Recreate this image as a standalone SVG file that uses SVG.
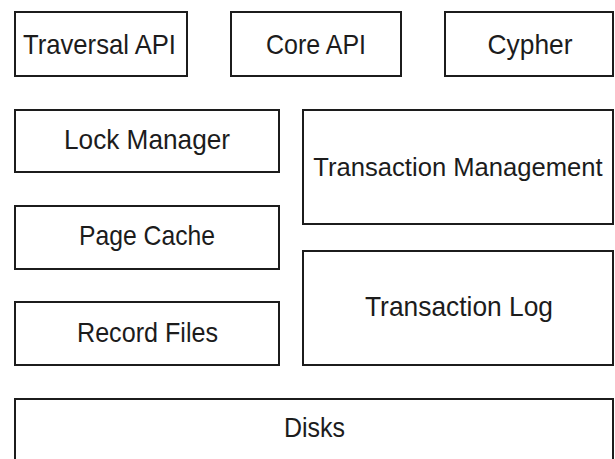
<svg xmlns="http://www.w3.org/2000/svg" width="615" height="459" viewBox="0 0 615 459">
  <style>
    .box { fill: #ffffff; stroke: #1c1c1c; stroke-width: 2; }
    .label { font-family: "Liberation Sans", Arial, sans-serif; font-size: 28.5px; fill: #1c1c1c; text-anchor: middle; }
    .wide { font-size: 25.6px; }
  </style>
  <rect width="615" height="459" fill="#ffffff"/>

  <!-- API layer -->
  <g id="traversal-api">
    <rect class="box" x="15" y="12" width="172" height="64"/>
    <text class="label" x="99.5" y="54" textLength="153" lengthAdjust="spacingAndGlyphs">Traversal API</text>
  </g>
  <g id="core-api">
    <rect class="box" x="231" y="12" width="170" height="64"/>
    <text class="label" x="316" y="54" textLength="100" lengthAdjust="spacingAndGlyphs">Core API</text>
  </g>
  <g id="cypher">
    <rect class="box" x="445" y="12" width="168" height="64"/>
    <text class="label" x="530" y="54" textLength="85" lengthAdjust="spacingAndGlyphs">Cypher</text>
  </g>

  <!-- storage stack, left column -->
  <g id="lock-manager">
    <rect class="box" x="15" y="110" width="264" height="62"/>
    <text class="label" x="147" y="149" textLength="166" lengthAdjust="spacingAndGlyphs">Lock Manager</text>
  </g>
  <g id="page-cache">
    <rect class="box" x="15" y="206" width="264" height="63"/>
    <text class="label" x="147" y="245" textLength="136" lengthAdjust="spacingAndGlyphs">Page Cache</text>
  </g>
  <g id="record-files">
    <rect class="box" x="15" y="302" width="264" height="63"/>
    <text class="label" x="147.5" y="342" textLength="141" lengthAdjust="spacingAndGlyphs">Record Files</text>
  </g>

  <!-- transaction column -->
  <g id="transaction-management">
    <rect class="box" x="303" y="110" width="310" height="114"/>
    <text class="label wide" x="458" y="176">Transaction Management</text>
  </g>
  <g id="transaction-log">
    <rect class="box" x="303" y="251" width="310" height="114"/>
    <text class="label" x="459" y="316" textLength="188" lengthAdjust="spacingAndGlyphs">Transaction Log</text>
  </g>

  <!-- physical layer -->
  <g id="disks">
    <rect class="box" x="15" y="399" width="598" height="80"/>
    <text class="label" x="314.5" y="437" textLength="61" lengthAdjust="spacingAndGlyphs">Disks</text>
  </g>

  <g id="connectors"/>
</svg>
